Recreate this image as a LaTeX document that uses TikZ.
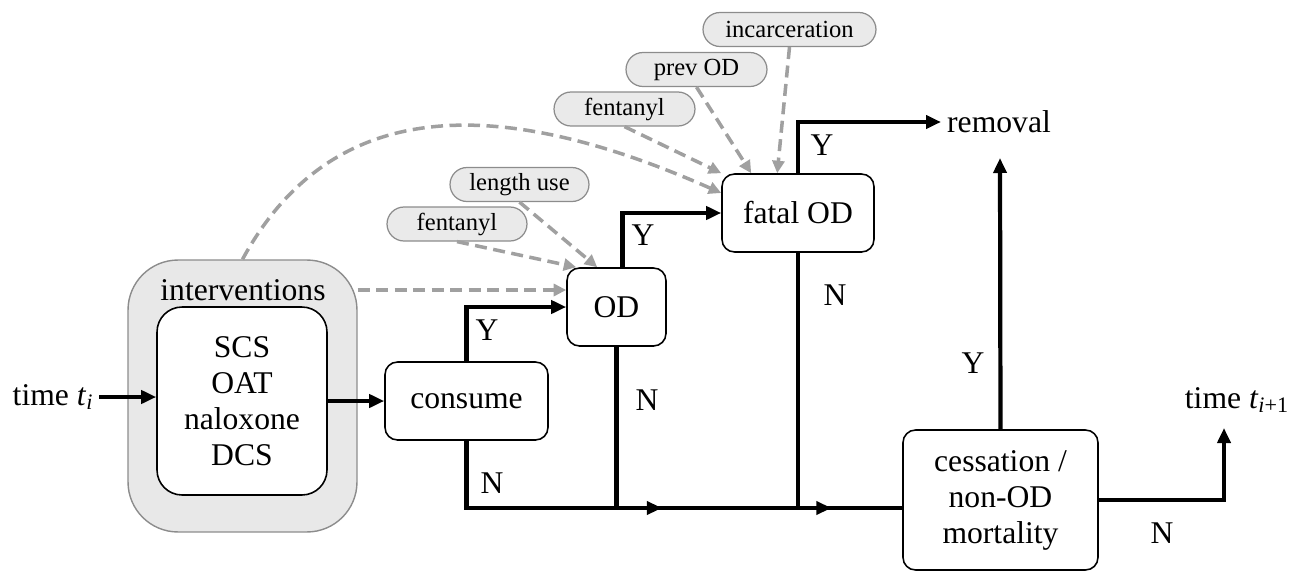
\documentclass[tikz,border=0pt]{standalone}
\usepackage{fontspec}
\setmainfont{Liberation Serif}
\usetikzlibrary{arrows.meta,decorations.markings}

\definecolor{dashgray}{RGB}{160,160,160}
\definecolor{pillfill}{RGB}{234,234,234}
\definecolor{pillline}{RGB}{140,140,140}
\definecolor{outfill}{RGB}{232,232,232}

\tikzset{
  box/.style={draw=black,line width=0.9pt,rounded corners=0.25cm,fill=white,align=center,inner sep=0pt},
  pill/.style={draw=pillline,fill=pillfill,line width=0.7pt,rounded corners=0.34cm,
    minimum height=0.68cm,inner sep=0pt,font=\fontsize{14}{16}\selectfont},
  line/.style={line width=2.4pt},
  flow/.style={line width=2.4pt,-{Triangle[length=0.3cm,width=0.26cm]}},
  dep/.style={dashgray,line width=2pt,dash pattern=on 0.24cm off 0.13cm,
    -{Triangle[length=0.25cm,width=0.24cm]}},
  midarrow/.style={postaction={decorate},decoration={markings,
    mark=at position #1 with {\arrow{Triangle[length=0.3cm,width=0.26cm]}}}},
  yn/.style={inner sep=0pt}
}

\begin{document}
\begin{tikzpicture}
  [x=0.02cm,y=-0.02cm,every node/.style={font=\fontsize{18}{20.5}\selectfont}]
  \useasboundingbox (0,0) rectangle (1289,575);

  % main boxes
  \node (tin) at (53,397) {time \textit{t}\textsubscript{\textit{i}}};
  \node[draw=pillline,fill=outfill,line width=0.8pt,rounded corners=1cm,
        minimum width=4.58cm,minimum height=5.44cm] (interv) at (242.5,396) {};
  \node (lab) at (243,290) {interventions};
  \node[box,rounded corners=0.5cm,minimum width=3.4cm,minimum height=3.76cm] (meas) at (242,401)
    {SCS\\OAT\\naloxone\\DCS};
  \node[box,minimum width=3.26cm,minimum height=1.56cm] (cons) at (466.5,401) {consume};
  \node[box,minimum width=1.98cm,minimum height=1.56cm] (od) at (616.5,307) {OD};
  \node[box,minimum width=3.04cm,minimum height=1.56cm] (fod) at (798,213) {fatal OD};
  \node[box,minimum width=3.9cm,minimum height=2.8cm] (cess) at (1000.5,500)
    {cessation /\\non-OD\\mortality};
  \node[anchor=west] (rem) at (941,122) {removal};
  \node (tout) at (1237,400) {time \textit{t}\textsubscript{\textit{i}+1}};

  % factors
  \node[pill,minimum width=2.8cm] (f1) at (457,224) {fentanyl};
  \node[pill,minimum width=2.78cm] (lu) at (519.5,184.5) {length use};
  \node[pill,minimum width=2.82cm] (f2) at (624.5,109) {fentanyl};
  \node[pill,minimum width=2.82cm] (pod) at (696.5,69.5) {prev OD};
  \node[pill,minimum width=3.46cm] (inc) at (789.5,29.5) {incarceration};

  \coordinate (j1) at (od.south |- 0,508);
  \coordinate (j2) at (fod.south |- 0,508);
  \coordinate (up1) at (1000,158);
  \coordinate (up2) at (1224,428);

  % flow
  \draw[flow] (tin.east) -- (tin.east -| meas.west);
  \draw[flow] (meas.east) -- (cons.west);
  \draw[flow] (cons.north) |- (od.west);
  \draw[line] (cons.south) |- (j1);
  \draw[line] (od.south) -- (j1);
  \draw[flow] ([xshift=0.12cm]od.north) |- (fod.west);
  \draw[flow] (fod.north) |- (rem.west);
  \draw[line] (fod.south) -- (j2);
  \draw[line,midarrow=0.25] (j1) -- (j2);
  \draw[line,midarrow=0.32] (j2) -- (j2 -| cess.west);
  \draw[flow] (cess.north) -- (up1);
  \draw[flow] (cess.east) -| (up2);

  \node[yn] (y1) at (487,330) {Y};
  \node[yn] (n1) at (492,483) {N};
  \node[yn] (y2) at (643,235) {Y};
  \node[yn] (n2) at (647,400) {N};
  \node[yn] (y3) at (822,145) {Y};
  \node[yn] (n3) at (835,295) {N};
  \node[yn] (y4) at (973,363) {Y};
  \node[yn] (n4) at (1162,533) {N};

  % influences
  \draw[dep] (lab -| interv.east) -- (lab -| od.west);
  \draw[dep] (f1.south) -- ([xshift=0.2cm]od.north west);
  \draw[dep] (lu.south) -- ([xshift=0.62cm]od.north west);
  \draw[dep] (f2.south) -- (fod.north west);
  \draw[dep] (pod.south) -- ([xshift=0.6cm]fod.north west);
  \draw[dep] (inc.south) -- ([xshift=1.12cm]fod.north west);
  \draw[dep] (interv.north) .. controls +(90,-165) and +(-222,-98) .. ([yshift=0.4cm]fod.west);
\end{tikzpicture}
\end{document}
